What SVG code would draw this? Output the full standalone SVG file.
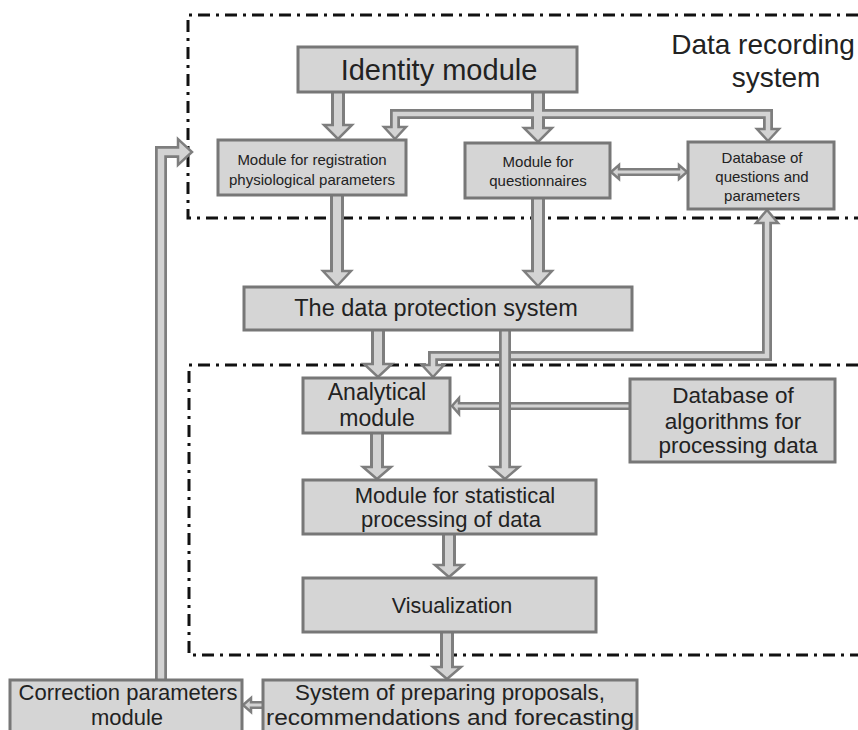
<svg xmlns="http://www.w3.org/2000/svg" width="858" height="730" viewBox="0 0 858 730">
<style>
.box{fill:#d5d5d5;stroke:#777;stroke-width:3}
.t{font-family:"Liberation Sans",Arial,sans-serif;fill:#222;text-anchor:middle}
.sm{font-size:15px}
.dash{fill:none;stroke:#111;stroke-width:3;stroke-dasharray:12 6 3 6}
.so{fill:none;stroke:#7e7e7e;stroke-linejoin:miter}
.si{fill:none;stroke:#d3d3d3;stroke-linejoin:miter}
.hd{fill:#d3d3d3;stroke:#7e7e7e;stroke-width:2.5;stroke-linejoin:miter}
</style>
<rect width="858" height="730" fill="#fff"/>
<g id="frames">
<path class="dash" d="M858 15 H188 V218 H858"/>
<path class="dash" d="M858 365 H189 V655 H858"/>
</g>
<g id="label-recording">
<text class="t" x="763" y="54" font-size="28">Data recording</text>
<text class="t" x="776" y="87" font-size="28">system</text>
</g>
<g id="connectors">
<g id="base-arrows">
<path class="so" stroke-width="14" d="M338 92 V127"/>
<path class="so" stroke-width="14" d="M538 92 V130"/>
<path class="so" stroke-width="10" d="M538 114 H395 V129"/>
<path class="so" stroke-width="10" d="M538 114 H768 V131"/>
<path class="so" stroke-width="8" d="M617 172 H681"/>
<path class="so" stroke-width="14" d="M337 195 V273"/>
<path class="so" stroke-width="14" d="M538 198 V273"/>
<path class="so" stroke-width="14" d="M378 330 V366"/>
<path class="so" stroke-width="10" d="M767 221 V356 H433 V367"/>
<path class="so" stroke-width="8" d="M630 406 H457"/>
<path class="so" stroke-width="14" d="M377 433 V469"/>
<path class="so" stroke-width="14" d="M449 534 V567"/>
<path class="so" stroke-width="14" d="M447 632 V669"/>
<path class="so" stroke-width="8" d="M263 705 H249"/>
<path class="so" stroke-width="12" d="M161 680 V152 H180"/>
<polygon class="hd" points="324,125 352,125 338,139"/>
<polygon class="hd" points="524,128 552,128 538,142"/>
<polygon class="hd" points="384,127 406,127 395,139"/>
<polygon class="hd" points="757,129 779,129 768,141"/>
<polygon class="hd" points="619,165 619,179 611,172"/>
<polygon class="hd" points="679,165 679,179 687,172"/>
<polygon class="hd" points="323,271 351,271 337,286"/>
<polygon class="hd" points="524,271 552,271 538,286"/>
<polygon class="hd" points="364,364 392,364 378,377"/>
<polygon class="hd" points="756,223 778,223 767,210"/>
<polygon class="hd" points="422,365 444,365 433,377"/>
<polygon class="hd" points="459,398 459,414 452,406"/>
<polygon class="hd" points="363,467 391,467 377,479"/>
<polygon class="hd" points="435,565 463,565 449,577"/>
<polygon class="hd" points="433,667 461,667 447,679"/>
<polygon class="hd" points="251,698 251,712 243,705"/>
<polygon class="hd" points="178,139 178,165 192,152"/>
<path class="si" stroke-width="8" d="M338 92 V127"/>
<path class="si" stroke-width="8" d="M538 92 V130"/>
<path class="si" stroke-width="4.5" d="M538 114 H395 V129"/>
<path class="si" stroke-width="4.5" d="M538 114 H768 V131"/>
<path class="si" stroke-width="3" d="M617 172 H681"/>
<path class="si" stroke-width="8" d="M337 195 V273"/>
<path class="si" stroke-width="8" d="M538 198 V273"/>
<path class="si" stroke-width="8" d="M378 330 V366"/>
<path class="si" stroke-width="4.5" d="M767 221 V356 H433 V367"/>
<path class="si" stroke-width="3" d="M630 406 H457"/>
<path class="si" stroke-width="8" d="M377 433 V469"/>
<path class="si" stroke-width="8" d="M449 534 V567"/>
<path class="si" stroke-width="8" d="M447 632 V669"/>
<path class="si" stroke-width="3" d="M263 705 H249"/>
<path class="si" stroke-width="6.5" d="M161 680 V152 H180"/>
</g>
<g id="arrow-protection-statistical">
<path class="so" stroke-width="12" d="M505 330 V469"/>
<polygon class="hd" points="491,467 519,467 505,479"/>
<path class="si" stroke-width="6.5" d="M505 330 V469"/>
</g>
</g>
<g id="identity">
<rect class="box" x="298" y="47" width="279" height="45"/>
<text class="t" x="439" y="80" font-size="29">Identity module</text>
</g>
<g id="registration">
<rect class="box" x="218" y="140" width="188" height="55"/>
<text class="t sm" x="312" y="165">Module for registration</text>
<text class="t sm" x="312" y="185">physiological parameters</text>
</g>
<g id="questionnaires">
<rect class="box" x="465" y="143" width="145" height="55"/>
<text class="t sm" x="538" y="167">Module for</text>
<text class="t sm" x="538" y="186">questionnaires</text>
</g>
<g id="db-questions">
<rect class="box" x="688" y="142" width="146" height="67"/>
<text class="t sm" x="762" y="163">Database of</text>
<text class="t sm" x="762" y="182">questions and</text>
<text class="t sm" x="762" y="201">parameters</text>
</g>
<g id="protection">
<rect class="box" x="244" y="287" width="388" height="43"/>
<text class="t" x="436" y="316" font-size="23.5">The data protection system</text>
</g>
<g id="analytical">
<rect class="box" x="303" y="378" width="147" height="55"/>
<text class="t" x="377" y="400" font-size="23">Analytical</text>
<text class="t" x="377" y="426" font-size="23">module</text>
</g>
<g id="db-algorithms">
<rect class="box" x="630" y="379" width="205" height="83"/>
<text class="t" x="733" y="403" font-size="22.5">Database of</text>
<text class="t" x="733" y="429" font-size="22.5">algorithms for</text>
<text class="t" x="738" y="453" font-size="22.5">processing data</text>
</g>
<g id="statistical">
<rect class="box" x="303" y="480" width="293" height="54"/>
<text class="t" x="455" y="503" font-size="22">Module for statistical</text>
<text class="t" x="451" y="527" font-size="22">processing of data</text>
</g>
<g id="visualization">
<rect class="box" x="303" y="578" width="293" height="54"/>
<text class="t" x="452" y="613" font-size="21.5">Visualization</text>
</g>
<g id="proposals">
<rect class="box" x="263" y="680" width="374" height="52"/>
<text class="t" x="450" y="700" font-size="22.5" textLength="310" lengthAdjust="spacingAndGlyphs">System of preparing proposals,</text>
<text class="t" x="450" y="725" font-size="22.5" textLength="368" lengthAdjust="spacingAndGlyphs">recommendations and forecasting</text>
</g>
<g id="correction">
<rect class="box" x="10" y="680" width="232" height="52"/>
<text class="t" x="128" y="700" font-size="22">Correction parameters</text>
<text class="t" x="127" y="725" font-size="22">module</text>
</g>
</svg>
